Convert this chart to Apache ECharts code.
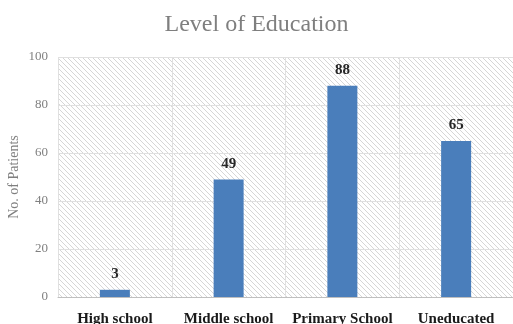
<!DOCTYPE html>
<html><head><meta charset="utf-8">
<script src="https://cdn.jsdelivr.net/npm/echarts@6/dist/echarts.min.js"></script>
<style>html,body{margin:0;padding:0;background:#fff}#c{width:513px;height:324px}</style>
</head><body><div id="c"></div>
<script>
const categories = ["High school", "Middle school", "Primary School", "Uneducated"];
const patients = [3, 49, 88, 65];
const yTicks = [0, 20, 40, 60, 80, 100];

const pc = document.createElement('canvas');
pc.width = 5; pc.height = 5;
const px = pc.getContext('2d');
px.fillStyle = '#ffffff'; px.fillRect(0,0,5,5);
px.strokeStyle = '#d6d6d6'; px.lineWidth = 1;
px.beginPath();
px.moveTo(-1,-1); px.lineTo(6,6);
px.moveTo(-1,4); px.lineTo(1,6);
px.moveTo(4,-1); px.lineTo(6,1);
px.stroke();

const chart = echarts.init(document.getElementById('c'));
chart.setOption({
  animation: false,
  title: {text: 'Level of Education', left: 'center', top: 8,
    textStyle: {fontFamily: 'Liberation Serif', fontSize: 24, fontWeight: 'normal', color: '#7f7f7f'}},
  grid: {left: 58, right: 0, top: 57, bottom: 27, show: true, borderWidth: 0,
    containLabel: false, outerBoundsMode: 'none',
    backgroundColor: {image: pc, repeat: 'repeat'}},
  xAxis: {type: 'category', data: categories,
    axisLine: {lineStyle: {color: '#bfbfbf'}}, axisTick: {show: false},
    splitLine: {show: true, lineStyle: {color: '#e0e0e0'}},
    axisLabel: {margin: 15, fontFamily: 'Liberation Serif', fontWeight: 'bold', fontSize: 15, color: '#1a1a1a', interval: 0}},
  yAxis: {type: 'value', min: 0, max: 100, interval: 20,
    name: 'No. of Patients', nameLocation: 'middle', nameGap: 37, nameMoveOverlap: false,
    nameTextStyle: {fontFamily: 'Liberation Serif', fontSize: 14, color: '#7f7f7f'},
    axisLine: {show: false}, axisTick: {show: false},
    splitLine: {lineStyle: {color: '#e0e0e0'}},
    axisLabel: {margin: 10, fontFamily: 'Liberation Serif', fontSize: 13, color: '#7f7f7f',
      formatter: v => yTicks.includes(v) ? String(v) : ''}},
  series: [{type: 'bar', data: patients, barWidth: 30,
    itemStyle: {color: '#4a7ebb'},
    label: {show: true, position: 'top', distance: 8, fontFamily: 'Liberation Serif', fontWeight: 'bold', fontSize: 15, color: '#262626'}}]
});
</script></body></html>
